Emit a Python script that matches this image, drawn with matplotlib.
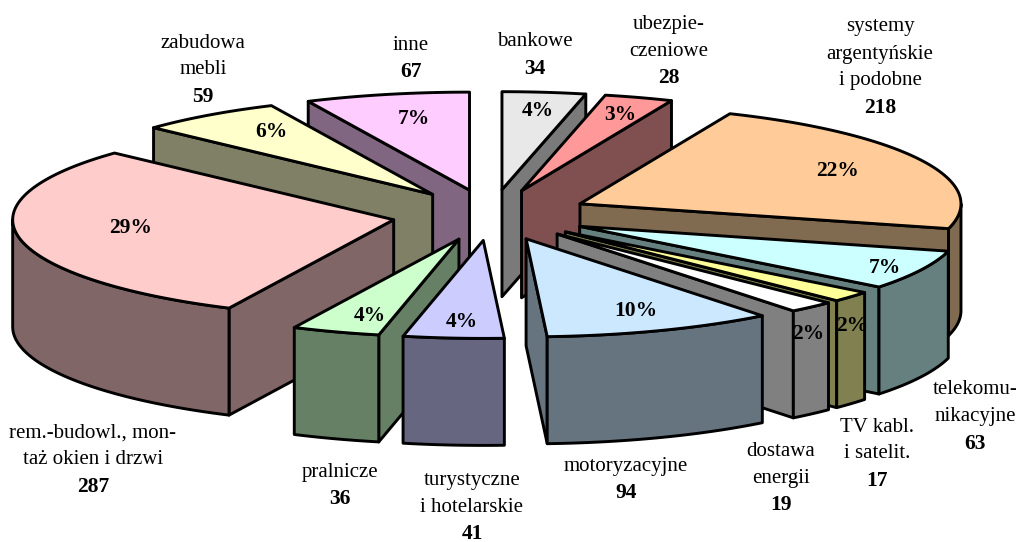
import numpy as np
import matplotlib
matplotlib.use('Agg')
import matplotlib.pyplot as plt
from matplotlib.patches import Polygon

# clockwise from 12 o'clock
names = ['bankowe', 'ubezpie-\nczeniowe', 'systemy\nargentyńskie\ni podobne',
         'telekomu-\nnikacyjne', 'TV kabl.\ni satelit.', 'dostawa\nenergii',
         'motoryzacyjne', 'turystyczne\ni hotelarskie', 'pralnicze',
         'rem.-budowl., mon-\ntaż okien i drzwi', 'zabudowa\nmebli', 'inne']
values = [34, 28, 218, 63, 17, 19, 94, 41, 36, 287, 59, 67]
percents = ['4%', '3%', '22%', '7%', '2%', '2%', '10%', '4%', '4%', '29%', '6%', '7%']

top_colors = ['#e8e8e8', '#ff9999', '#ffcc99', '#ccffff', '#ffff99', '#ffffff',
              '#cce8ff', '#ccccff', '#ccffcc', '#ffcccc', '#ffffcc', '#ffccff']
side_colors = ['#7a7a7a', '#804f4f', '#806a50', '#668080', '#808050', '#808080',
               '#667480', '#666680', '#668066', '#806666', '#808066', '#806680']

# label anchors: x centre and y of first line, in pixels
label_x = [535, 669, 880, 975, 877, 781, 626, 472, 340, 93, 203, 411]
label_y = [42, 24, 27, 390, 427, 451, 466, 480, 472, 433, 43, 45]
pct_x = [538, 620, 838, 885, 852, 808, 636, 462, 370, 131, 271, 414]
pct_y = [111, 115, 171, 268, 326, 334, 311, 322, 316, 228, 132, 119]

# pie geometry (pixels)
cx, cy = 491, 215
rx, ry = 381, 98
depth = 107
explode = 0.26
line_h = 27

fig = plt.figure(figsize=(10.2, 5.42), dpi=100)
ax = fig.add_axes([0, 0, 1, 1])
ax.set_xlim(0, 1020)
ax.set_ylim(542, 0)
ax.axis('off')

plt.rcParams['font.family'] = ['Liberation Serif', 'DejaVu Serif']

edges = np.cumsum([0] + values) / sum(values) * 360
mids = (edges[:-1] + edges[1:]) / 2


def rim(tx, ty, a1, a2):
    n = max(int(abs(a2 - a1)), 2) + 1
    t = np.radians(np.linspace(a1, a2, n))
    return np.column_stack([tx + rx * np.sin(t), ty - ry * np.cos(t)])


def face(pts, color, z):
    ax.add_patch(Polygon(pts, closed=True, facecolor=color, edgecolor='black',
                         linewidth=2.1, joinstyle='round', zorder=z))


# back slices first, those nearest the viewer last
order = np.argsort(-np.abs(180 - mids))
z = 1
for i in order:
    a1, a2 = edges[i], edges[i + 1]
    m = np.radians(mids[i])
    tx = cx + explode * rx * np.sin(m)
    ty = cy - explode * ry * np.cos(m)
    tip = np.array([[tx, ty]])
    down = np.array([0, depth])

    # radial side walls that face the viewer
    if np.sin(np.radians(a1)) < 0:
        p = rim(tx, ty, a1, a1)[:1]
        face(np.vstack([tip, p, p + down, tip + down]), side_colors[i], z)
        z += 1
    if np.sin(np.radians(a2)) > 0:
        p = rim(tx, ty, a2, a2)[:1]
        face(np.vstack([tip, p, p + down, tip + down]), side_colors[i], z)
        z += 1

    # outer wall, front half only
    b1, b2 = max(a1, 90), min(a2, 270)
    if b2 > b1:
        arc = rim(tx, ty, b1, b2)
        face(np.vstack([arc, arc[::-1] + down]), side_colors[i], z)
        z += 1

    face(np.vstack([tip, rim(tx, ty, a1, a2)]), top_colors[i], z)
    z += 1

for i in range(len(values)):
    ax.text(pct_x[i], pct_y[i], percents[i], fontsize=15.5, fontweight='bold',
            ha='center', va='center', zorder=100)
    lines = names[i].split('\n')
    for k, s in enumerate(lines):
        ax.text(label_x[i], label_y[i] + k * line_h, s, fontsize=15,
                ha='center', va='center', zorder=100)
    ax.text(label_x[i], label_y[i] + len(lines) * line_h, str(values[i]), fontsize=15.5,
            fontweight='bold', ha='center', va='center', zorder=100)

fig.savefig('out.png', dpi=100)
